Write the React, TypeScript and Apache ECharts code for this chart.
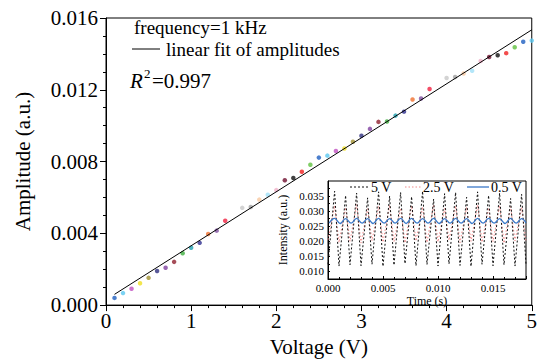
import React, { useEffect, useRef } from "react";
import * as echarts from "echarts";

const FONT = "Liberation Serif";

// Main scatter: amplitude vs voltage
const voltages = [
  0.1, 0.2, 0.3, 0.4, 0.5, 0.6, 0.7, 0.8, 0.9, 1.0,
  1.1, 1.2, 1.3, 1.4, 1.5, 1.6, 1.7, 1.8, 1.9, 2.0,
  2.1, 2.2, 2.3, 2.4, 2.5, 2.6, 2.7, 2.8, 2.9, 3.0,
  3.1, 3.2, 3.3, 3.4, 3.5, 3.6, 3.7, 3.8, 3.9, 4.0,
  4.1, 4.2, 4.3, 4.4, 4.5, 4.6, 4.7, 4.8, 4.9, 5.0,
];
const amplitudes = [
  0.0004, 0.00067, 0.00091, 0.00122, 0.00152, 0.0019, 0.00208, 0.00241, 0.00289, 0.0032,
  0.00347, 0.00396, 0.00415, 0.0047, 0.005, 0.00542, 0.00547, 0.00588, 0.00615, 0.00641,
  0.00696, 0.00708, 0.00743, 0.00782, 0.00822, 0.00833, 0.00859, 0.00873, 0.0091, 0.00944,
  0.00982, 0.01021, 0.01023, 0.01056, 0.01078, 0.01146, 0.01151, 0.01204, 0.01235, 0.01266,
  0.01271, 0.01291, 0.01306, 0.0136, 0.01383, 0.01392, 0.01404, 0.01437, 0.01468, 0.01474,
];
const pointColors = [
  "#1f5fc0", "#5bc8f0", "#c050c0", "#f0e020", "#a09030", "#303080",
  "#8040a0", "#902030", "#40b040", "#20a0b0", "#303090", "#f07030",
  "#8050a0", "#f02040", "#ffffff", "#c8c8c8", "#a0a0a0", "#f8c8a0",
  "#a0e0f8", "#f0b0c8", "#701030", "#101010", "#f02020", "#60c040",
];

// Linear fit
const fitX = [0.1, 5.0];
const fitY = [0.0006, 0.01534];

// Inset: intensity vs time
const timesHV = [
  0, 0.0006, 0.001, 0.0016, 0.002, 0.0026, 0.003, 0.0036, 0.004, 0.0046,
  0.005, 0.0056, 0.006, 0.0066, 0.007, 0.0076, 0.008, 0.0086, 0.009, 0.0096,
  0.01, 0.0106, 0.011, 0.0116, 0.012, 0.0126, 0.013, 0.0136, 0.014, 0.0146,
  0.015, 0.0156, 0.016, 0.0166, 0.017, 0.0176, 0.018,
];
const intensity5V = [
  0.0124, 0.0366, 0.0118, 0.0352, 0.0122, 0.036, 0.0119, 0.0344, 0.0124, 0.0364,
  0.0117, 0.035, 0.0121, 0.0362, 0.0126, 0.0348, 0.0119, 0.0366, 0.0123, 0.034,
  0.0118, 0.0358, 0.0125, 0.0362, 0.012, 0.0346, 0.0117, 0.0364, 0.0124, 0.0352,
  0.0119, 0.036, 0.0122, 0.0342, 0.0118, 0.0356, 0.0124,
];
const intensity2_5V = [
  0.0205, 0.0318, 0.0196, 0.0312, 0.02, 0.0322, 0.0194, 0.0308, 0.0202, 0.0316,
  0.0197, 0.032, 0.0199, 0.031, 0.0195, 0.0318, 0.0201, 0.0314, 0.0196, 0.0322,
  0.0198, 0.0309, 0.0203, 0.0317, 0.0195, 0.0313, 0.02, 0.0321, 0.0197, 0.0311,
  0.0199, 0.0319, 0.0194, 0.0315, 0.0201, 0.0312, 0.0198,
];
const timesLV = [
  0.0001, 0.0006, 0.0011, 0.0016, 0.0021, 0.0026, 0.0031, 0.0036, 0.0041, 0.0046,
  0.0051, 0.0056, 0.0061, 0.0066, 0.0071, 0.0076, 0.0081, 0.0086, 0.0091, 0.0096,
  0.0101, 0.0106, 0.0111, 0.0116, 0.0121, 0.0126, 0.0131, 0.0136, 0.0141, 0.0146,
  0.0151, 0.0156, 0.0161, 0.0166, 0.0171, 0.0176, 0.018,
];
const intensity0_5V = [
  0.026, 0.0276, 0.0259, 0.0275, 0.026, 0.0276, 0.026, 0.0275, 0.0259, 0.0276,
  0.026, 0.0275, 0.026, 0.0276, 0.0259, 0.0276, 0.026, 0.0275, 0.026, 0.0276,
  0.0259, 0.0275, 0.026, 0.0276, 0.026, 0.0275, 0.0259, 0.0276, 0.026, 0.0276,
  0.026, 0.0275, 0.0259, 0.0276, 0.026, 0.0275, 0.0261,
];

const black = "#000";

function buildOption(): any {
  const tickText = { fontFamily: FONT, color: black };
  const isMultiple = (v: number, step: number) =>
    Math.abs(v / step - Math.round(v / step)) < 1e-6;
  const txt = (text: string, x: number, y: number, size: number, extra: any = {}) => ({
    type: "text", x, y, z: 10,
    style: { text, fontFamily: FONT, fontSize: size, fill: black, ...extra },
  });
  return {
    animation: false,
    backgroundColor: "#fff",
    textStyle: { fontFamily: FONT },
    grid: [
      { left: 106, top: 18, width: 432, height: 292, show: true, borderColor: black, borderWidth: 1, backgroundColor: "transparent" },
      { left: 328, top: 181, width: 198, height: 98, show: true, borderColor: black, borderWidth: 1, backgroundColor: "#fff" },
    ],
    xAxis: [
      {
        type: "value", gridIndex: 0, min: 0, max: 5, interval: 1,
        name: "Voltage (V)", nameLocation: "middle", nameGap: 29,
        nameTextStyle: { ...tickText, fontSize: 21 },
        axisLine: { show: true, lineStyle: { color: black, width: 1 } },
        axisTick: { show: true, inside: false, length: 6, lineStyle: { color: black } },
        minorTick: { show: true, splitNumber: 5, length: 3, lineStyle: { color: black } },
        splitLine: { show: false },
        axisLabel: { ...tickText, fontSize: 21, margin: 5 },
      },
      {
        type: "value", gridIndex: 1, min: 0, max: 0.018, interval: 0.005,
        name: "Time (s)", nameLocation: "middle", nameGap: 16,
        nameTextStyle: { ...tickText, fontSize: 12 },
        axisLine: { show: true, lineStyle: { color: black, width: 1 } },
        axisTick: { show: true, inside: true, length: 3, lineStyle: { color: black } },
        minorTick: { show: true, splitNumber: 5, length: 2, lineStyle: { color: black } },
        splitLine: { show: false },
        axisLabel: {
          ...tickText, fontSize: 11, margin: 3, showMaxLabel: false,
          formatter: (v: number) => (isMultiple(v, 0.005) ? v.toFixed(3) : ""),
        },
      },
    ],
    yAxis: [
      {
        type: "value", gridIndex: 0, min: 0, max: 0.016, interval: 0.004,
        name: "Amplitude (a.u.)", nameLocation: "middle", nameGap: 73,
        nameTextStyle: { ...tickText, fontSize: 21 },
        axisLine: { show: true, lineStyle: { color: black, width: 1 } },
        axisTick: { show: true, inside: false, length: 6, lineStyle: { color: black } },
        minorTick: { show: true, splitNumber: 4, length: 3, lineStyle: { color: black } },
        splitLine: { show: false },
        axisLabel: { ...tickText, fontSize: 21, margin: 8, formatter: (v: number) => v.toFixed(3) },
      },
      {
        type: "value", gridIndex: 1, min: 0.0075, max: 0.04, interval: 0.0025,
        name: "Intensity (a.u.)", nameLocation: "middle", nameGap: 39,
        nameTextStyle: { ...tickText, fontSize: 12 },
        axisLine: { show: true, lineStyle: { color: black, width: 1 } },
        axisTick: { show: true, inside: true, length: 2, lineStyle: { color: black } },
        splitLine: { show: false },
        axisLabel: {
          ...tickText, fontSize: 11, margin: 4, showMaxLabel: false,
          formatter: (v: number) => (isMultiple(v, 0.005) && v < 0.0399 ? v.toFixed(3) : ""),
        },
      },
    ],
    series: [
      {
        type: "scatter", xAxisIndex: 0, yAxisIndex: 0, symbolSize: 4.5, clip: false,
        data: voltages.map((v, i) => ({
          value: [v, amplitudes[i]],
          itemStyle: { color: pointColors[i % pointColors.length] },
        })),
      },
      {
        type: "line", xAxisIndex: 0, yAxisIndex: 0, symbol: "none",
        lineStyle: { color: black, width: 1 },
        data: fitX.map((x, i) => [x, fitY[i]]),
      },
      {
        type: "line", xAxisIndex: 1, yAxisIndex: 1, symbol: "none",
        lineStyle: { color: "#f08a8a", width: 1, type: [1.5, 2] },
        data: timesHV.map((t, i) => [t, intensity2_5V[i]]),
      },
      {
        type: "line", xAxisIndex: 1, yAxisIndex: 1, symbol: "none",
        lineStyle: { color: "#111", width: 1, type: [2, 2] },
        data: timesHV.map((t, i) => [t, intensity5V[i]]),
      },
      {
        type: "line", xAxisIndex: 1, yAxisIndex: 1, symbol: "none", smooth: 0.4,
        lineStyle: { color: "#3a78c8", width: 1.3 },
        data: timesLV.map((t, i) => [t, intensity0_5V[i]]),
      },
    ],
    graphic: [
      txt("frequency=1 kHz", 134, 18, 19),
      { type: "line", z: 10, shape: { x1: 132, y1: 49, x2: 160, y2: 49 }, style: { stroke: black, lineWidth: 1 } },
      txt("linear fit of amplitudes", 166, 40, 19),
      txt("R", 130, 70, 21, { fontStyle: "italic" }),
      txt("2", 144, 67, 13),
      txt("=0.997", 152, 70, 21),
      // inset legend
      { type: "line", z: 10, shape: { x1: 350, y1: 187, x2: 368, y2: 187 }, style: { stroke: "#111", lineWidth: 1, lineDash: [2, 2] } },
      txt("5 V", 371, 180, 14),
      { type: "line", z: 10, shape: { x1: 405, y1: 187, x2: 421, y2: 187 }, style: { stroke: "#f08a8a", lineWidth: 1, lineDash: [1.5, 2] } },
      txt("2.5 V", 423, 180, 14),
      { type: "line", z: 10, shape: { x1: 467, y1: 187, x2: 489, y2: 187 }, style: { stroke: "#3a78c8", lineWidth: 1.3 } },
      txt("0.5 V", 491, 180, 14),
    ],
  };
}

export default function App() {
  const ref = useRef<HTMLDivElement>(null);
  useEffect(() => {
    if (!ref.current) return;
    const chart = echarts.init(ref.current, null, { renderer: "svg" });
    chart.setOption(buildOption());
    return () => chart.dispose();
  }, []);
  return (
    <div
      ref={ref}
      style={{ position: "fixed", left: 0, top: 0, width: 540, height: 362, background: "#fff" }}
    />
  );
}
